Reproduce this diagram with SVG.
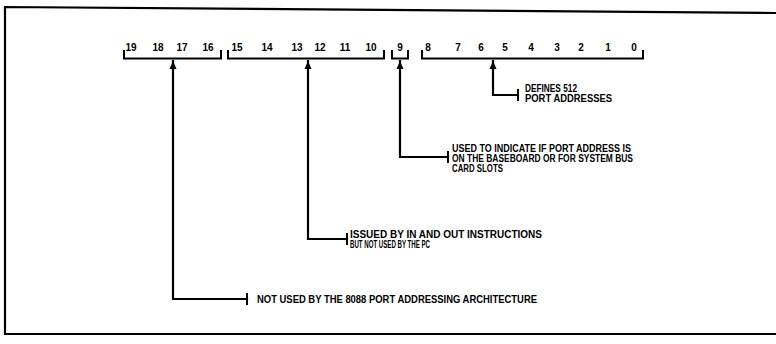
<svg xmlns="http://www.w3.org/2000/svg" width="776" height="344" viewBox="0 0 776 344">
<style>
.ln{fill:none;stroke:#000;stroke-width:2.2;stroke-linecap:square}
.br{fill:none;stroke:#000;stroke-width:2}
.t{font-family:"Liberation Sans",Arial,sans-serif;font-weight:bold;font-size:10px;fill:#000}
.n{font-family:"Liberation Sans",Arial,sans-serif;font-weight:bold;font-size:10px;fill:#000;text-anchor:middle}
</style>
<defs>
<marker id="ah" viewBox="0 0 8 8" refX="8" refY="4" markerWidth="8" markerHeight="8" markerUnits="userSpaceOnUse" orient="auto">
<path d="M0,0.5 L8,4 L0,7.5 Z" fill="#000"/>
</marker>
</defs>
<rect width="776" height="344" fill="#fff"/>
<path d="M776,13 L5,7 L5,334 L776,334" fill="none" stroke="#000" stroke-width="2.2"/>

<g id="bits-19-16">
<path class="br" d="M124,50 V58.5 H221 V50"/>
<text class="n" x="131" y="51">19</text>
<text class="n" x="158" y="51">18</text>
<text class="n" x="182" y="51">17</text>
<text class="n" x="208" y="51">16</text>
</g>
<g id="bits-15-10">
<path class="br" d="M228,50 V58.5 H384 V50"/>
<text class="n" x="237" y="51">15</text>
<text class="n" x="267" y="51">14</text>
<text class="n" x="297" y="51">13</text>
<text class="n" x="320" y="51">12</text>
<text class="n" x="345" y="51">11</text>
<text class="n" x="371" y="51">10</text>
</g>
<g id="bit-9">
<path class="br" d="M392,50 V58.5 H408 V50"/>
<text class="n" x="400" y="51">9</text>
</g>
<g id="bits-8-0">
<path class="br" d="M422,50 V58.5 H643 V50"/>
<text class="n" x="428" y="51">8</text>
<text class="n" x="458" y="51">7</text>
<text class="n" x="481" y="51">6</text>
<text class="n" x="505" y="51">5</text>
<text class="n" x="531" y="51">4</text>
<text class="n" x="557" y="51">3</text>
<text class="n" x="581" y="51">2</text>
<text class="n" x="608" y="51">1</text>
<text class="n" x="634" y="51">0</text>
</g>

<g id="connectors">
<path class="ln" d="M518,95 H493 V61" marker-end="url(#ah)"/>
<path class="ln" d="M448,157 H400 V61" marker-end="url(#ah)"/>
<path class="ln" d="M347,239 H308 V61" marker-end="url(#ah)"/>
<path class="ln" d="M247,299 H173 V61" marker-end="url(#ah)"/>
<path class="br" d="M518,89 V101 M448,151 V163 M347,233 V245 M247,293 V305"/>
</g>

<g id="note-512">
<text class="t" x="525" y="92" textLength="52" lengthAdjust="spacingAndGlyphs">DEFINES 512</text>
<text class="t" x="525" y="101.5" textLength="87" lengthAdjust="spacingAndGlyphs">PORT ADDRESSES</text>
</g>
<g id="note-9">
<text class="t" x="452" y="151.5" textLength="179" lengthAdjust="spacingAndGlyphs">USED TO INDICATE IF PORT ADDRESS IS</text>
<text class="t" x="452" y="161.5" textLength="181" lengthAdjust="spacingAndGlyphs">ON THE BASEBOARD OR FOR SYSTEM BUS</text>
<text class="t" x="452" y="171.5" textLength="51" lengthAdjust="spacingAndGlyphs">CARD SLOTS</text>
</g>
<g id="note-15-10">
<text class="t" x="350" y="238" textLength="192" lengthAdjust="spacingAndGlyphs">ISSUED BY IN AND OUT INSTRUCTIONS</text>
<text class="t" x="350" y="248" textLength="80" lengthAdjust="spacingAndGlyphs">BUT NOT USED BY THE PC</text>
</g>
<g id="note-19-16">
<text class="t" x="257" y="303" textLength="280" lengthAdjust="spacingAndGlyphs">NOT USED BY THE 8088 PORT ADDRESSING ARCHITECTURE</text>
</g>
</svg>
